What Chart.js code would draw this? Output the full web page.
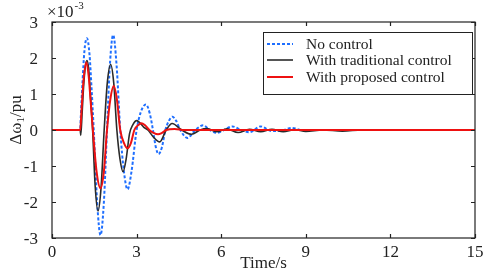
<!DOCTYPE html>
<html>
<head>
<meta charset="utf-8">
<script src="https://cdn.jsdelivr.net/npm/chart.js@4.4.0/dist/chart.umd.min.js"></script>
<style>
  html, body { margin: 0; padding: 0; background: #fff; }
  #wrap { width: 484px; height: 272px; }
</style>
</head>
<body>
<div id="wrap"><canvas id="chart" width="484" height="272"></canvas></div>
<script>
// values in units of 1e-3 pu
const xTicks = [0, 3, 6, 9, 12, 15];
const yTicks = [-3, -2, -1, 0, 1, 2, 3];

const noCtrlT = [0, 1.0, 1.02, 1.08, 1.15, 1.24, 1.33, 1.40, 1.48, 1.6, 1.72, 1.84, 1.95, 2.06, 2.17, 2.29, 2.42, 2.55, 2.68, 2.82, 3.0, 3.15, 3.33, 3.47, 3.58, 3.68, 3.78, 3.9, 4.02, 4.15, 4.27, 4.4, 4.55, 4.8, 5.08, 5.36, 5.6, 5.85, 6.1, 6.4, 6.7, 7.0, 7.4, 7.8, 8.15, 8.5, 8.85, 9.3, 15];
const noCtrlV = [0, 0, 0.35, 1.3, 2.2, 2.55, 2.1, 1.2, 0, -2.0, -2.92, -2.0, 0, 1.9, 2.64, 1.8, 0, -1.15, -1.65, -1.15, 0, 0.5, 0.71, 0.45, 0, -0.47, -0.67, -0.47, 0, 0.26, 0.37, 0.26, 0, -0.22, 0, 0.13, 0, -0.08, 0, 0.1, 0, -0.06, 0.1, -0.03, -0.02, 0.06, 0, 0, 0];

const tradT = [0, 1.0, 1.02, 1.07, 1.12, 1.18, 1.24, 1.30, 1.36, 1.44, 1.53, 1.63, 1.74, 1.85, 1.96, 2.08, 2.19, 2.30, 2.41, 2.52, 2.63, 2.75, 2.87, 3.0, 3.12, 3.25, 3.4, 3.6, 3.82, 4.05, 4.26, 4.6, 4.95, 5.25, 5.5, 5.85, 6.2, 6.6, 7.0, 7.4, 7.8, 8.2, 8.6, 9.0, 9.6, 10.3, 11, 15];
const tradV = [0, 0, -0.15, 0.5, 1.2, 1.75, 1.93, 1.7, 1.0, 0, -1.55, -2.25, -1.6, 0, 1.3, 1.82, 1.3, 0, -0.8, -1.16, -0.8, -0.1, 0.15, 0.26, 0.2, 0.08, 0, -0.2, -0.33, 0, 0.18, 0, -0.12, 0, 0.04, -0.05, 0.03, -0.07, 0.02, -0.05, 0.02, -0.05, 0.01, -0.04, 0, -0.03, 0, 0];

const propT = [0, 1.0, 1.05, 1.12, 1.22, 1.30, 1.37, 1.45, 1.58, 1.72, 1.84, 1.95, 2.07, 2.19, 2.30, 2.42, 2.55, 2.68, 2.80, 2.92, 3.05, 3.17, 3.3, 3.45, 3.6, 3.76, 3.9, 4.05, 4.35, 4.7, 15];
const propV = [0, 0, 0.6, 1.4, 1.88, 1.5, 0.8, 0, -1.15, -1.62, -1.15, 0, 0.86, 1.22, 0.86, 0, -0.36, -0.51, -0.36, 0, 0.13, 0.19, 0.13, 0, -0.08, -0.12, -0.08, 0, 0.03, 0, 0];

const seriesNames = ['No control', 'With traditional control', 'With proposed control'];

function pts(t, v) {
  return t.map((x, i) => ({ x: x, y: v[i] }));
}

const serif = '"Liberation Serif", "Times New Roman", serif';

// frame, inward ticks, titles, exponent label and the boxed legend
const framePlugin = {
  id: 'frame',
  afterDatasetsDraw(chart) {
    const { ctx, chartArea: a, scales } = chart;
    ctx.save();
    ctx.strokeStyle = '#222';
    ctx.lineWidth = 1.2;
    ctx.strokeRect(a.left, a.top, a.right - a.left, a.bottom - a.top);
    ctx.beginPath();
    xTicks.forEach(v => {
      const px = Math.round(scales.x.getPixelForValue(v)) + 0.5;
      ctx.moveTo(px, a.bottom); ctx.lineTo(px, a.bottom - 4);
      ctx.moveTo(px, a.top); ctx.lineTo(px, a.top + 4);
    });
    yTicks.forEach(v => {
      const py = Math.round(scales.y.getPixelForValue(v)) + 0.5;
      ctx.moveTo(a.left, py); ctx.lineTo(a.left + 4, py);
      ctx.moveTo(a.right, py); ctx.lineTo(a.right - 4, py);
    });
    ctx.stroke();

    ctx.fillStyle = '#222';
    // x title
    ctx.font = '17px ' + serif;
    ctx.textAlign = 'center';
    ctx.textBaseline = 'alphabetic';
    ctx.fillText('Time/s', (a.left + a.right) / 2, 268);

    // exponent label
    ctx.textAlign = 'left';
    ctx.font = '17px ' + serif;
    ctx.fillText('\u00d710', 47, 17);
    const ew = ctx.measureText('\u00d710').width;
    ctx.font = '11px ' + serif;
    ctx.fillText('-3', 47 + ew + 1, 9);

    // y title with subscript
    ctx.save();
    ctx.translate(21, 120);
    ctx.rotate(-Math.PI / 2);
    ctx.font = '17px ' + serif;
    const w1 = ctx.measureText('\u0394\u03c9').width;
    ctx.font = '11px ' + serif;
    const w2 = ctx.measureText('1').width;
    ctx.font = '17px ' + serif;
    const w3 = ctx.measureText('/pu').width;
    let x0 = -(w1 + w2 + w3) / 2;
    ctx.fillText('\u0394\u03c9', x0, 0);
    ctx.font = '11px ' + serif;
    ctx.fillText('1', x0 + w1, 3);
    ctx.font = '17px ' + serif;
    ctx.fillText('/pu', x0 + w1 + w2, 0);
    ctx.restore();

    // legend
    const lx = 263, ly = 32, lw = 209, lh = 62;
    ctx.fillStyle = '#fff';
    ctx.fillRect(lx, ly, lw, lh);
    ctx.lineWidth = 1;
    ctx.strokeStyle = '#222';
    ctx.strokeRect(lx + 0.5, ly + 0.5, lw, lh);
    const rows = [44, 60, 77];
    chart.data.datasets.forEach((ds, i) => {
      ctx.beginPath();
      ctx.strokeStyle = ds.borderColor;
      ctx.lineWidth = ds.borderWidth;
      ctx.setLineDash(ds.borderDash || []);
      ctx.moveTo(267, rows[i]);
      ctx.lineTo(293, rows[i]);
      ctx.stroke();
      ctx.setLineDash([]);
      ctx.fillStyle = '#222';
      ctx.font = '15.5px ' + serif;
      ctx.textBaseline = 'middle';
      ctx.fillText(seriesNames[i], 306, rows[i] + 1);
    });
    ctx.restore();
  }
};

new Chart(document.getElementById('chart'), {
  type: 'line',
  data: {
    datasets: [
      {
        label: seriesNames[0],
        data: pts(noCtrlT, noCtrlV),
        borderColor: '#1f6fff',
        borderWidth: 2,
        borderDash: [3, 2],
        order: 3
      },
      {
        label: seriesNames[1],
        data: pts(tradT, tradV),
        borderColor: '#2a2a2a',
        borderWidth: 1.6,
        order: 2
      },
      {
        label: seriesNames[2],
        data: pts(propT, propV),
        borderColor: '#ee1111',
        borderWidth: 2,
        order: 1
      }
    ]
  },
  options: {
    responsive: false,
    animation: false,
    events: [],
    layout: { padding: { top: 22, right: 9, left: 0, bottom: 0 } },
    elements: {
      point: { radius: 0 },
      line: { cubicInterpolationMode: 'monotone', fill: false }
    },
    plugins: {
      legend: { display: false },
      tooltip: { enabled: false }
    },
    scales: {
      x: {
        type: 'linear',
        min: 0,
        max: 15,
        afterFit: s => { s.height = 34; },
        afterBuildTicks: s => { s.ticks = xTicks.map(v => ({ value: v })); },
        grid: { display: false },
        border: { display: false },
        ticks: {
          padding: -4,
          color: '#222',
          maxRotation: 0,
          font: { family: serif, size: 17 }
        }
      },
      y: {
        min: -3,
        max: 3,
        afterFit: s => { s.width = 52; },
        afterBuildTicks: s => { s.ticks = yTicks.map(v => ({ value: v })); },
        grid: { display: false },
        border: { display: false },
        ticks: {
          padding: 6,
          labelOffset: 2,
          color: '#222',
          font: { family: serif, size: 17 }
        }
      }
    }
  },
  plugins: [framePlugin]
});
</script>
</body>
</html>
